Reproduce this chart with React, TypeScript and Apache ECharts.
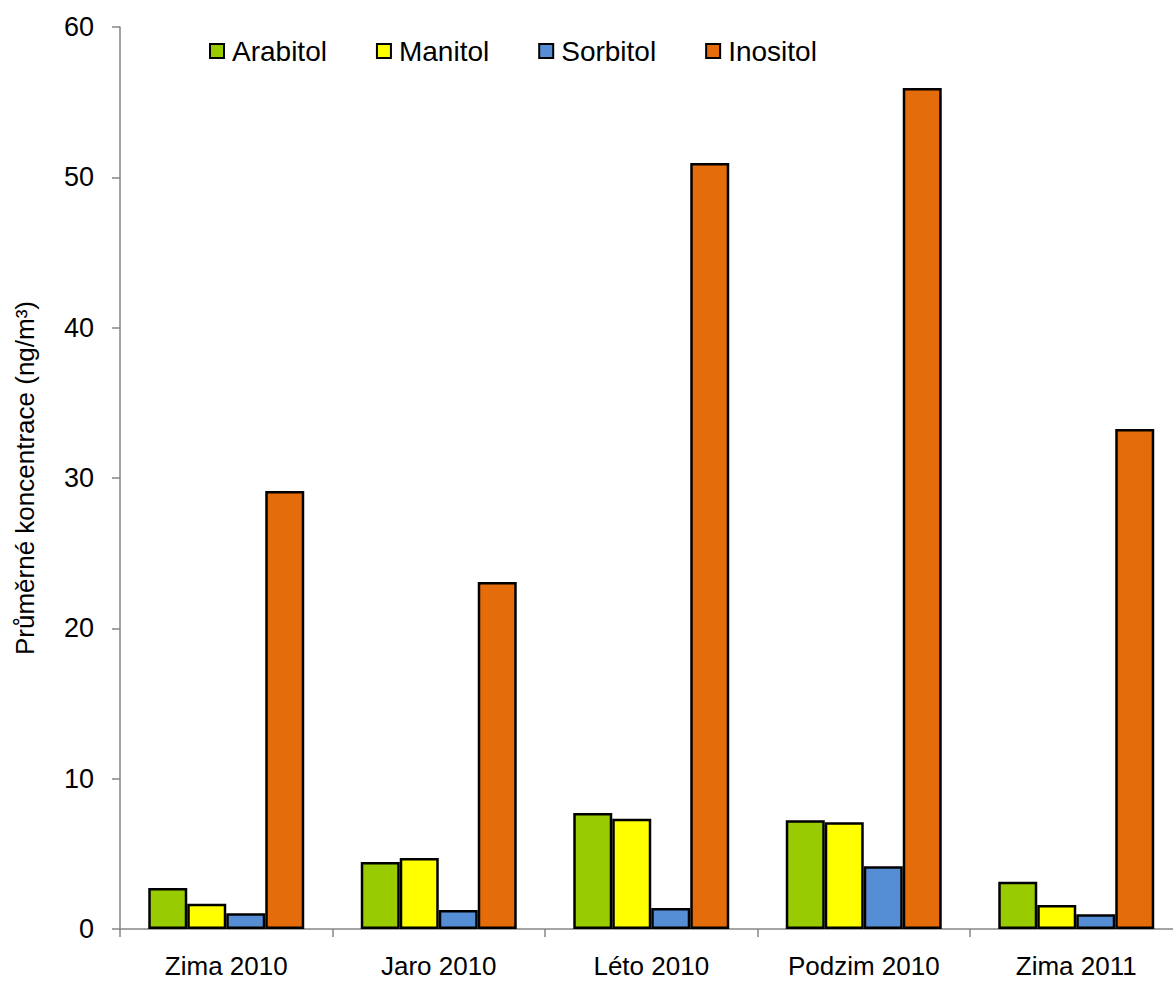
import React, { useEffect, useRef } from "react";
import * as echarts from "echarts";

const categories = ["Zima 2010", "Jaro 2010", "Léto 2010", "Podzim 2010", "Zima 2011"];
const arabitol = [2.73, 4.46, 7.72, 7.23, 3.15];
const manitol = [1.68, 4.72, 7.34, 7.1, 1.6];
const sorbitol = [1.04, 1.26, 1.4, 4.17, 0.98];
const inositol = [29.14, 23.08, 50.95, 55.95, 33.26];
const seriesNames = ["Arabitol", "Manitol", "Sorbitol", "Inositol"];
const seriesColors = ["#99CC00", "#FFFF00", "#558ED5", "#E46C0A"];
const yTicks = { min: 0, max: 60, interval: 10 };
const yName = "Průměrné koncentrace (ng/m³)";

const FONT = "'Liberation Sans', Arial, sans-serif";

export default function App() {
  const ref = useRef<HTMLDivElement>(null);
  useEffect(() => {
    if (!ref.current) return;
    const chart = echarts.init(ref.current, null, { renderer: "svg" });
    const data = [arabitol, manitol, sorbitol, inositol];
    chart.setOption({
      animation: false,
      backgroundColor: "#ffffff",
      textStyle: { fontFamily: FONT, color: "#000" },
      legend: {
        left: 204,
        top: 32,
        itemWidth: 14,
        itemHeight: 14,
        itemGap: 49,
        icon: "rect",
        textStyle: { fontSize: 28, color: "#000", fontFamily: FONT, padding: [0, 0, 0, 3] },
        data: seriesNames,
      },
      grid: { left: 120, right: 0.5, top: 27, bottom: 54 },
      xAxis: {
        type: "category",
        data: categories,
        axisLine: { show: true, lineStyle: { color: "#868686", width: 1.5 } },
        axisTick: { show: true, inside: false, length: 8, alignWithLabel: false, lineStyle: { color: "#868686", width: 1.5 } },
        axisLabel: { fontSize: 26, color: "#000", margin: 24, fontFamily: FONT },
      },
      yAxis: {
        type: "value",
        min: yTicks.min,
        max: yTicks.max,
        interval: yTicks.interval,
        name: yName,
        nameLocation: "middle",
        nameGap: 82,
        nameTextStyle: { fontSize: 26, color: "#000", fontFamily: FONT },
        axisLine: { show: true, lineStyle: { color: "#868686", width: 1.5 } },
        axisTick: { show: true, inside: false, length: 8, lineStyle: { color: "#868686", width: 1.5 } },
        axisLabel: { fontSize: 27, color: "#000", margin: 26, fontFamily: FONT },
        splitLine: { show: false },
      },
      series: seriesNames.map((name, i) => ({
        name,
        type: "bar",
        data: data[i],
        barGap: "0%",
        barCategoryGap: "26.6%",
        itemStyle: { color: seriesColors[i], borderColor: "#000", borderWidth: 2.5 },
      })),
    });
    return () => chart.dispose();
  }, []);
  return (
    <div style={{ position: "fixed", left: 0, top: 0, width: 1173, height: 983, overflow: "hidden" }}>
      <div ref={ref} style={{ width: 1183, height: 983 }} />
    </div>
  );
}
